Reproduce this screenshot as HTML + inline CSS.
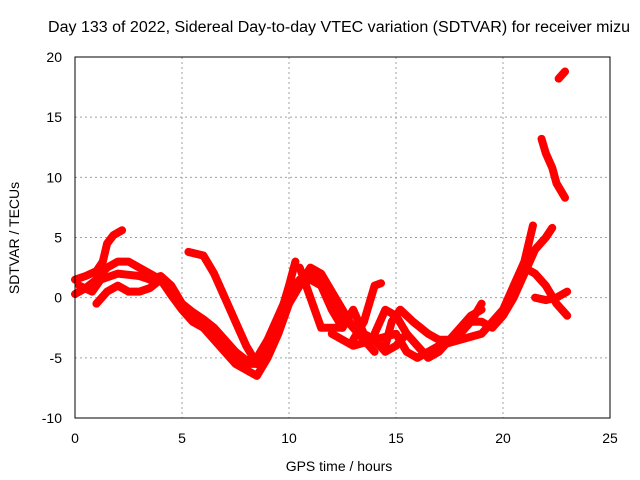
<!DOCTYPE html>
<html><head><meta charset="utf-8"><style>
body{margin:0;background:#fff;}
svg{display:block;font-family:"Liberation Sans",sans-serif;}
</style></head><body>
<svg id="chart" width="640" height="480">
<text x="339" y="32" font-size="15.5" text-anchor="middle" textLength="582" lengthAdjust="spacingAndGlyphs">Day 133 of 2022, Sidereal Day-to-day VTEC variation (SDTVAR) for receiver mizu</text>
<text x="339" y="471" font-size="14" text-anchor="middle">GPS time / hours</text>
<text transform="translate(19,238) rotate(-90)" font-size="14" text-anchor="middle">SDTVAR / TECUs</text>
<g id="grid"></g><g id="ticks"></g><g id="series"></g>
<rect x="75" y="57" width="535" height="361" fill="none" stroke="#000" stroke-width="1"/>
</svg>
<script>
const xTicks=[0,5,10,15,20,25];
const yTicks=[-10,-5,0,5,10,15,20];
const trackA=[[0,1.5],[0.5,1.8],[1,2.2],[1.3,3],[1.5,4.5],[1.8,5.2],[2.2,5.6]];
const trackB=[[0,0.3],[0.5,0.8],[1,1.5],[1.5,2.5],[2,3],[2.5,3],[3,2.5],[3.5,2],[4,1.5],[4.5,0.5],[5,-0.5],[5.5,-1.2],[6,-1.8],[6.5,-2.5],[7,-3.5],[7.5,-4.5],[8,-5.2],[8.5,-5],[9,-3.5],[9.5,-1.5],[10,0.5],[10.5,1.5],[11,2],[11.5,1.5],[12,0],[12.5,-1.5],[13,-2.5],[13.5,-3.5],[14,-4.5]];
const trackC=[[0.2,1],[0.8,0.5],[1.2,1.5],[2,2],[3,1.8],[3.5,1.5],[4,1.8],[4.5,1],[5,-0.5],[5.5,-1.5],[6,-2.5],[6.5,-3.5],[7,-4.5],[7.5,-5.5],[8,-6],[8.5,-6.5],[9,-5],[9.5,-3],[10,-0.5],[10.5,1],[11,1.5],[11.5,1],[12,-1],[12.5,-2.5]];
const trackD=[[1,-0.5],[1.5,0.5],[2,1],[2.5,0.5],[3,0.5],[3.5,0.8],[4,1.5],[4.5,0.2],[5,-1],[5.5,-2],[6,-2.5],[6.5,-3],[7,-4],[7.5,-5],[8,-5.5],[8.5,-5.5],[9,-4.5],[9.5,-2],[10,0],[10.5,1],[11,2.5],[11.5,2],[12,0.5],[12.5,-1],[13,-2.5],[13.5,-2]];
const trackE=[[5.3,3.8],[6,3.5],[6.5,2],[7,0],[7.5,-2],[8,-4],[8.5,-5.5],[9,-4],[9.5,-2],[10,1],[10.3,3]];
const trackF=[[10.5,2.5],[11,0],[11.5,-2.5],[12,-2.5],[12.5,-2.5],[13,-1],[13.5,-3],[14,-3.5],[14.5,-4.5],[15,-4],[15.5,-3]];
const trackG=[[13,-3.5],[13.5,-2],[14,1],[14.3,1.2]];
const trackH=[[14.5,-4],[14.8,-2],[15.2,-1],[15.8,-2],[16.5,-3],[17,-3.5],[17.5,-3.5],[18,-3],[18.5,-2],[19,-0.5]];
const trackI=[[14,-3],[14.5,-1],[15,-1.5],[15.5,-3],[16,-4],[16.5,-5],[17,-4.5],[17.5,-3.5],[18,-2.5],[18.5,-1.5],[19,-1]];
const trackJ=[[12,-3],[13,-4],[14,-3.5],[15,-3],[15.5,-4.5],[16,-5],[17,-4],[18,-3.5],[19,-3],[19.5,-2],[20,-1],[20.5,1],[21,3],[21.4,6]];
const trackK=[[18.5,-2],[19,-2],[19.5,-2.5],[20,-1.5],[20.5,0],[21,2],[21.5,4],[22,5],[22.3,5.8]];
const trackL=[[20.5,1],[21,2.5],[21.5,2],[22,1],[22.5,-0.5],[23,-1.5]];
const trackM=[[21.5,0],[22,-0.2],[22.5,0],[23,0.5]];
const trackN=[[21.8,13.2],[22,12],[22.3,10.8],[22.5,9.5],[22.9,8.3]];
const trackO=[[22.6,18.2],[22.9,18.8]];
const tracks=[trackA,trackB,trackC,trackD,trackE,trackF,trackG,trackH,trackI,trackJ,trackK,trackL,trackM,trackN,trackO];
const NS="http://www.w3.org/2000/svg";
const X=t=>75+t*535/25, Y=v=>418-(v+10)*361/30;
const grid=document.getElementById('grid'),ticks=document.getElementById('ticks'),ser=document.getElementById('series');
function mk(tag,attrs,parent){const e=document.createElementNS(NS,tag);for(const k in attrs)e.setAttribute(k,attrs[k]);parent.appendChild(e);return e;}
xTicks.forEach(t=>{
 if(t>0&&t<25){const g=mk('line',{x1:X(t),x2:X(t),y1:57,y2:418,stroke:'#a0a0a0','stroke-dasharray':'2,3'},grid);
 
 }
 const l=mk('text',{x:X(t),y:443,'font-size':14,'text-anchor':'middle'},ticks);l.textContent=t;
 
 
});
yTicks.forEach(v=>{
 if(v>-10&&v<20){const g=mk('line',{x1:75,x2:610,y1:Y(v),y2:Y(v),stroke:'#a0a0a0','stroke-dasharray':'2,3'},grid);
 
 }
 const l=mk('text',{x:62,y:Y(v)+5,'font-size':14,'text-anchor':'end'},ticks);l.textContent=v;
 
 
});
tracks.forEach(tr=>{
 const p=mk('polyline',{points:tr.map(d=>X(d[0])+','+Y(d[1])).join(' '),fill:'none',stroke:'#ff0000','stroke-width':8,'stroke-linejoin':'round','stroke-linecap':'round'},ser);
 
 
});
</script>
</body></html>
